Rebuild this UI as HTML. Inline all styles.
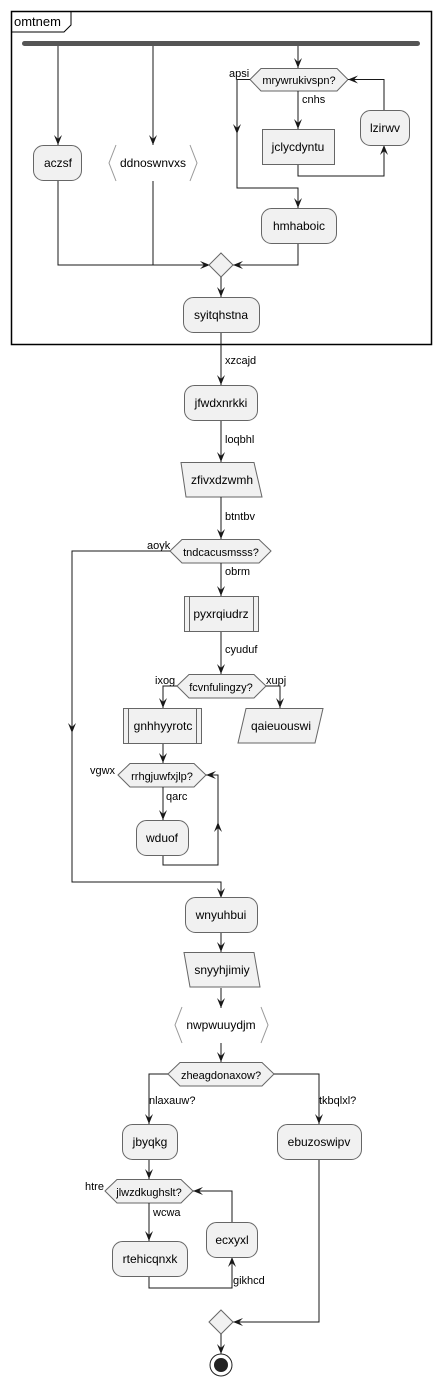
<!DOCTYPE html>
<html><head><meta charset="utf-8"><style>
html,body{margin:0;padding:0;background:#fff;}
svg{display:block;}
text{font-family:"Liberation Sans",sans-serif;font-size:12px;fill:#000;}
.l{font-size:11px;}
.n{fill:#f1f1f1;stroke:#666;stroke-width:1;}
.e{fill:none;stroke:#181818;stroke-width:1;}
</style></head><body>
<svg width="441" height="1386" viewBox="0 0 441 1386" xmlns="http://www.w3.org/2000/svg">
<defs>
<marker id="a" viewBox="0 0 10 10" refX="10" refY="5" markerWidth="10" markerHeight="10" markerUnits="userSpaceOnUse" orient="auto">
<polygon points="0,1 10,5 0,9 4,5" fill="#181818"/>
</marker>
</defs>
<!-- frame -->
<rect x="11.5" y="11.5" width="420" height="333" fill="none" stroke="#000" stroke-width="1.5"/>
<path d="M11.5 32 H64 L71 25 V11.5" fill="none" stroke="#000"/>
<text x="14" y="26" style="font-size:13px">omtnem</text>
<!-- fork bar -->
<rect x="22" y="41" width="398" height="5" rx="2.5" fill="#555"/>
<path class="e" d="M58 46 V145" marker-end="url(#a)"/>
<path class="e" d="M153 46 V145" marker-end="url(#a)"/>
<path class="e" d="M298 46 V68" marker-end="url(#a)"/>
<rect class="n" x="33.5" y="145.5" width="48" height="35" rx="10"/>
<text x="58" y="167" text-anchor="middle">aczsf</text>
<path d="M116 145 L109 163 L116 181 M190 145 L197 163 L190 181" fill="none" stroke="#999"/>
<text x="153" y="167" text-anchor="middle">ddnoswnvxs</text>
<polygon class="n" points="250,79.5 261,68.5 337,68.5 348,79.5 337,91 261,91"/>
<text x="299" y="84" text-anchor="middle" class="l">mrywrukivspn?</text>
<text x="229" y="77" class="l">apsi</text>
<text x="302" y="103" class="l">cnhs</text>
<path class="e" d="M250 79.5 H237 V188 H298 V208" marker-end="url(#a)"/>
<path class="e" d="M237 100 V134" marker-end="url(#a)"/>
<path class="e" d="M298 91 V129" marker-end="url(#a)"/>
<rect class="n" x="262.5" y="129.5" width="72" height="35"/>
<text x="298" y="151" text-anchor="middle">jclycdyntu</text>
<path class="e" d="M298 165 V176 H384 V145" marker-end="url(#a)"/>
<rect class="n" x="360.5" y="110.5" width="49" height="35" rx="10"/>
<text x="385" y="132" text-anchor="middle">lzirwv</text>
<path class="e" d="M384 110 V79.5 H348" marker-end="url(#a)"/>
<rect class="n" x="261.5" y="208.5" width="75" height="35" rx="10"/>
<text x="299" y="230" text-anchor="middle">hmhaboic</text>
<path class="e" d="M298 244 V265 H233" marker-end="url(#a)"/>
<path class="e" d="M58 181 V265 H210" marker-end="url(#a)"/>
<path class="e" d="M153 181 V265"/>
<polygon class="n" points="221,253 233,265 221,277 209,265"/>
<path class="e" d="M221 277 V297" marker-end="url(#a)"/>
<rect class="n" x="183.5" y="297.5" width="76" height="35" rx="10"/>
<text x="221" y="319" text-anchor="middle">syitqhstna</text>
<!-- main -->
<path class="e" d="M221 333 V385" marker-end="url(#a)"/>
<text x="225" y="364" class="l">xzcajd</text>
<rect class="n" x="184.5" y="385.5" width="73" height="35" rx="10"/>
<text x="221" y="407" text-anchor="middle">jfwdxnrkki</text>
<path class="e" d="M221 421 V462" marker-end="url(#a)"/>
<text x="225" y="443" class="l">loqbhl</text>
<polygon class="n" points="181,462.5 254,462.5 262,497 186,497"/>
<text x="222" y="484" text-anchor="middle">zfivxdzwmh</text>
<path class="e" d="M221 497 V539" marker-end="url(#a)"/>
<text x="225" y="520" class="l">btntbv</text>
<polygon class="n" points="170,551 182,539.5 259,539.5 271,551 259,563 182,563"/>
<text x="221" y="556" text-anchor="middle" class="l">tndcacusmsss?</text>
<text x="147" y="549" class="l">aoyk</text>
<path class="e" d="M170 551 H72 V882 H221 V898" marker-end="url(#a)"/>
<path class="e" d="M72 700 V733" marker-end="url(#a)"/>
<path class="e" d="M221 563 V596" marker-end="url(#a)"/>
<text x="225" y="575" class="l">obrm</text>
<rect class="n" x="184.5" y="596.5" width="74" height="35"/>
<path d="M189.5 597 V631 M253.5 597 V631" stroke="#666" fill="none"/>
<text x="221" y="618" text-anchor="middle">pyxrqiudrz</text>
<path class="e" d="M221 632 V674" marker-end="url(#a)"/>
<text x="225" y="653" class="l">cyuduf</text>
<polygon class="n" points="177,686 189,674.5 254,674.5 266,686 254,698 189,698"/>
<text x="221" y="691" text-anchor="middle" class="l">fcvnfulingzy?</text>
<text x="155" y="684" class="l">ixog</text>
<text x="266" y="684" class="l">xupj</text>
<path class="e" d="M177 686 H163 V708" marker-end="url(#a)"/>
<path class="e" d="M266 686 H280 V708" marker-end="url(#a)"/>
<rect class="n" x="123.5" y="708.5" width="78" height="35"/>
<path d="M128.5 709 V743 M196.5 709 V743" stroke="#666" fill="none"/>
<text x="163" y="730" text-anchor="middle">gnhhyyrotc</text>
<polygon class="n" points="246,708.5 323,708.5 315,743 238,743"/>
<text x="281" y="730" text-anchor="middle">qaieuouswi</text>
<path class="e" d="M163 744 V763" marker-end="url(#a)"/>
<polygon class="n" points="118,775 130,763.5 194,763.5 206,775 194,787 130,787"/>
<text x="162" y="780" text-anchor="middle" class="l">rrhgjuwfxjlp?</text>
<text x="90" y="774" class="l">vgwx</text>
<path class="e" d="M163 787 V820" marker-end="url(#a)"/>
<text x="166" y="800" class="l">qarc</text>
<rect class="n" x="136.5" y="820.5" width="52" height="35" rx="10"/>
<text x="162" y="842" text-anchor="middle">wduof</text>
<path class="e" d="M163 856 V865 H218 V775 H206" marker-end="url(#a)"/>
<path class="e" d="M218 850 V822" marker-end="url(#a)"/>
<rect class="n" x="185.5" y="897.5" width="72" height="35" rx="10"/>
<text x="221" y="919" text-anchor="middle">wnyuhbui</text>
<path class="e" d="M221 933 V952" marker-end="url(#a)"/>
<polygon class="n" points="184,952.5 254,952.5 260,987 190,987"/>
<text x="222" y="974" text-anchor="middle">snyyhjimiy</text>
<path class="e" d="M221 988 V1008" marker-end="url(#a)"/>
<path d="M182 1007 L175 1025 L182 1043 M261 1007 L268 1025 L261 1043" fill="none" stroke="#999"/>
<text x="221" y="1029" text-anchor="middle">nwpwuuydjm</text>
<path class="e" d="M221 1043 V1062" marker-end="url(#a)"/>
<polygon class="n" points="168,1074 180,1062.5 262,1062.5 274,1074 262,1086 180,1086"/>
<text x="221" y="1079" text-anchor="middle" class="l">zheagdonaxow?</text>
<path class="e" d="M168 1074 H149 V1124" marker-end="url(#a)"/>
<path class="e" d="M274 1074 H319 V1124" marker-end="url(#a)"/>
<text x="149" y="1104" class="l">nlaxauw?</text>
<text x="319" y="1104" class="l">tkbqlxl?</text>
<rect class="n" x="122.5" y="1124.5" width="55" height="35" rx="10"/>
<text x="150" y="1146" text-anchor="middle">jbyqkg</text>
<rect class="n" x="277.5" y="1124.5" width="84" height="35" rx="10"/>
<text x="319" y="1146" text-anchor="middle">ebuzoswipv</text>
<path class="e" d="M149 1160 V1179" marker-end="url(#a)"/>
<polygon class="n" points="105,1191 117,1179.5 181,1179.5 193,1191 181,1203 117,1203"/>
<text x="149" y="1196" text-anchor="middle" class="l">jlwzdkughslt?</text>
<text x="85" y="1190" class="l">htre</text>
<path class="e" d="M149 1203 V1241" marker-end="url(#a)"/>
<text x="153" y="1216" class="l">wcwa</text>
<rect class="n" x="112.5" y="1241.5" width="75" height="35" rx="10"/>
<text x="150" y="1263" text-anchor="middle">rtehicqnxk</text>
<path class="e" d="M149 1277 V1288 H232 V1257" marker-end="url(#a)"/>
<text x="233" y="1284" class="l">gikhcd</text>
<rect class="n" x="206.5" y="1222.5" width="51" height="35" rx="10"/>
<text x="232" y="1244" text-anchor="middle">ecxyxl</text>
<path class="e" d="M232 1222 V1191 H193" marker-end="url(#a)"/>
<path class="e" d="M319 1160 V1322 H233" marker-end="url(#a)"/>
<polygon class="n" points="221,1310 233,1322 221,1334 209,1322"/>
<path class="e" d="M221 1334 V1354" marker-end="url(#a)"/>
<circle cx="221" cy="1365" r="11" fill="#fff" stroke="#222" stroke-width="1"/>
<circle cx="221" cy="1365" r="7" fill="#222"/>
</svg>
</body></html>
